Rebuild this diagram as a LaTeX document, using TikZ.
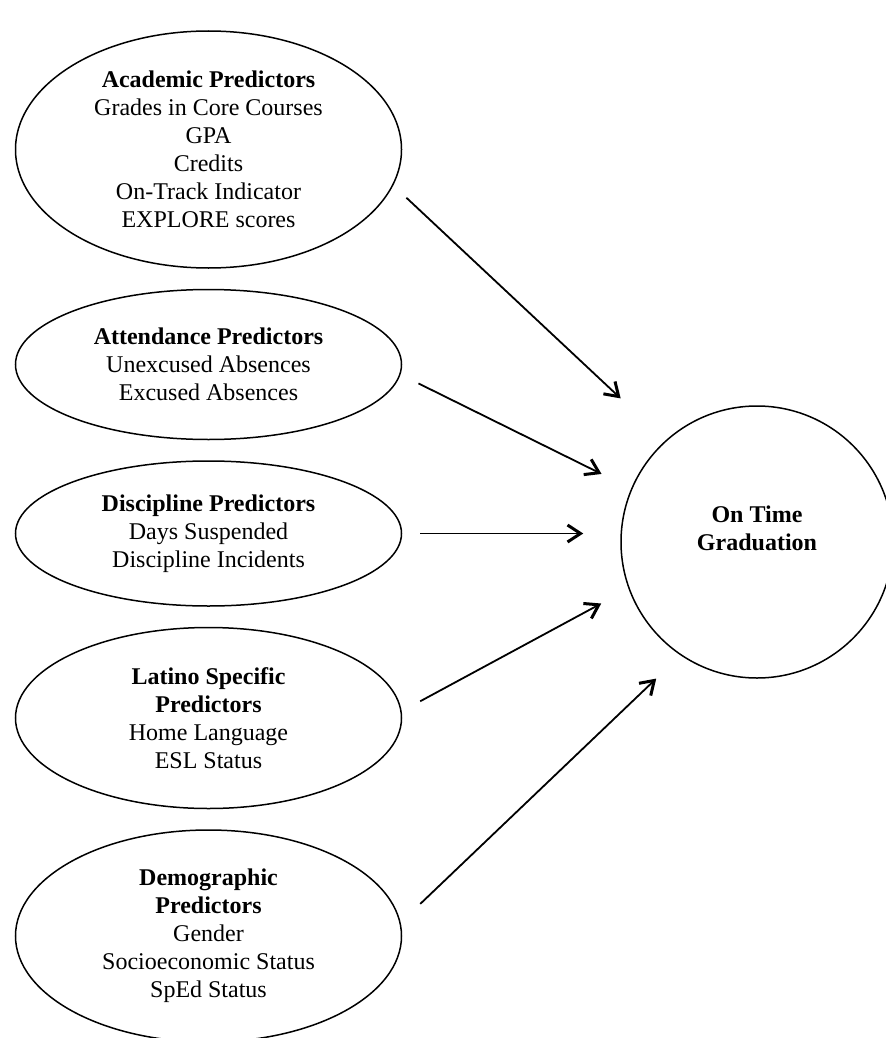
\documentclass[tikz,border=0pt]{standalone}
\usepackage{fontspec}
\setmainfont{Liberation Serif}
\usepackage{tikz}
\usetikzlibrary{arrows.meta,shapes,positioning,calc}
\tikzset{
    predicts/.style={-{Straight Barb[length=6.5pt, width=8.5pt, line width=1.5pt]}, line width=0.9pt},
    predictor/.style={draw, ellipse, line width=0.75pt, minimum width=193pt, inner sep=0pt, align=center, font=\fontsize{12pt}{14pt}\selectfont},
    outcome/.style={draw, circle, line width=0.75pt, minimum size=136pt, inner sep=0pt, align=center, font=\fontsize{12pt}{14pt}\selectfont}
}
\begin{document}
\begin{tikzpicture}[x=0.5pt, y=-0.5pt, node distance=10pt]
            \useasboundingbox (0,0) rectangle (885,1038);
            \node[predictor, minimum height=118.5pt] (acad) at (208.5,149.5) {\textbf{Academic Predictors}\\Grades in Core Courses\\GPA\\Credits\\On-Track Indicator\\EXPLORE scores};
            \node[predictor, minimum height=75pt, below=of acad] (att) {\textbf{Attendance Predictors}\\Unexcused Absences\\Excused Absences};
            \node[predictor, minimum height=72.5pt, below=of att] (disc) {\textbf{Discipline Predictors}\\Days Suspended\\Discipline Incidents};
            \node[predictor, minimum height=90.5pt, below=of disc] (lat) {\textbf{Latino Specific}\\\textbf{Predictors}\\Home Language\\ESL Status};
            \node[predictor, minimum height=106pt, below=of lat] (dem) {\textbf{Demographic}\\\textbf{Predictors}\\Gender\\Socioeconomic Status\\SpEd Status};
            \node[outcome] (grad) at (757,542) {\textbf{On Time}\\\textbf{Graduation}\\\mbox{}};
            \draw[predicts, shorten <=9pt, shorten >=30.7pt] (acad.-11.8) -- (grad.132.6);
            \draw[predicts, shorten <=10pt, shorten >=16.5pt] (att.-3.2) -- (grad.157.4);
            \draw[predicts, shorten <=9pt, shorten >=18.5pt] (disc.east) -- (disc.east -| grad.west);
            \draw[predicts, shorten <=10.5pt, shorten >=15.5pt] (lat.2.4) -- (grad.200.8);
            \draw[predicts, shorten <=13.5pt, shorten >=16.8pt] (dem.4.7) -- (grad.236.5);
        \end{tikzpicture}
\end{document}
